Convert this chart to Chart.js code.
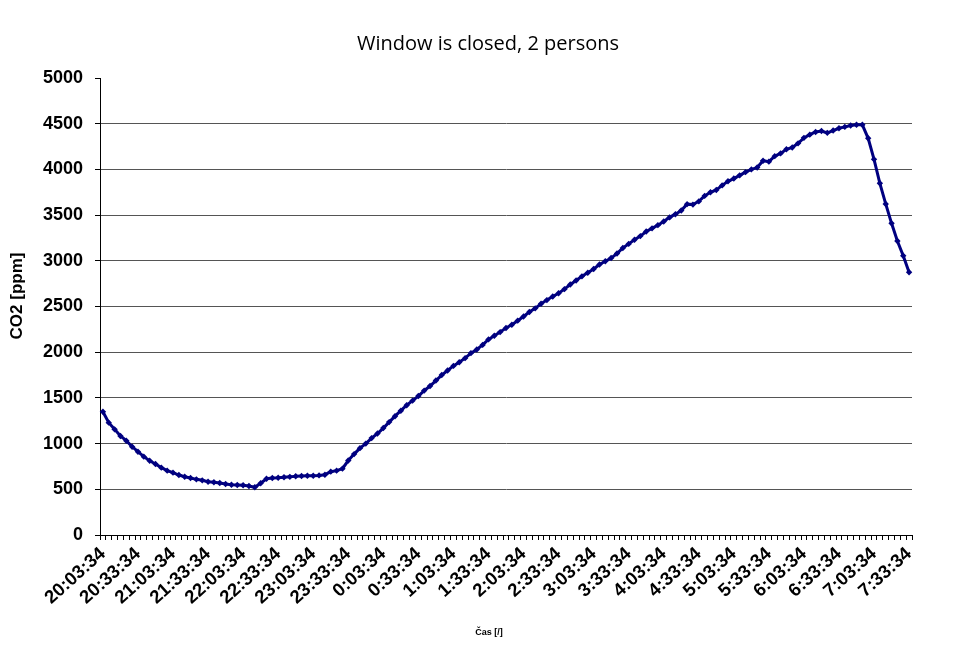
<!DOCTYPE html>
<html><head><meta charset="utf-8">
<script src="https://cdn.jsdelivr.net/npm/chart.js@4"></script>
<style>html,body{margin:0;padding:0;background:#fff}</style>
</head><body>
<canvas id="c" width="954" height="652"></canvas>
<script>
const co2 = [
1349,1229,1156,1083,1032,966,911,857,813,777,
737,704,682,656,638,624,609,598,583,577,
569,558,550,547,544,536,522,566,616,624,
627,632,636,642,645,648,648,652,660,693,
704,726,815,885,950,1000,1060,1110,1170,1235,
1300,1360,1420,1470,1520,1580,1630,1690,1750,1800,
1850,1890,1935,1990,2030,2080,2140,2180,2220,2265,
2300,2345,2390,2440,2480,2530,2570,2610,2645,2690,
2740,2785,2830,2870,2910,2960,2995,3030,3080,3140,
3185,3230,3270,3320,3355,3390,3430,3475,3510,3550,
3620,3615,3650,3710,3750,3775,3825,3870,3900,3935,
3970,4000,4020,4095,4085,4145,4175,4220,4240,4285,
4345,4380,4410,4420,4400,4425,4450,4465,4480,4488,
4488,4340,4110,3848,3622,3410,3217,3056,2874
];
const tickLabels = ['20:03:34','20:33:34','21:03:34','21:33:34','22:03:34','22:33:34','23:03:34','23:33:34',
'0:03:34','0:33:34','1:03:34','1:33:34','2:03:34','2:33:34','3:03:34','3:33:34',
'4:03:34','4:33:34','5:03:34','5:33:34','6:03:34','6:33:34','7:03:34','7:33:34'];
const labelEvery = 6;
const categories = [];
for (let i = 0; i < co2.length; i++) {
  const s = (20*3600 + 3*60 + 34 + i*300) % 86400;
  const h = Math.floor(s/3600), m = Math.floor((s%3600)/60), sec = s%60;
  categories.push(h + ':' + String(m).padStart(2,'0') + ':' + String(sec).padStart(2,'0'));
}
const titleText = 'Window is closed, 2 persons';
const yTitle = 'CO2 [ppm]';
const xTitle = 'Čas [/]';

const textPlugin = {
  id: 'texts',
  afterDraw(chart) {
    const ctx = chart.ctx;
    ctx.save();
    ctx.fillStyle = '#000';
    ctx.textAlign = 'center';
    ctx.textBaseline = 'middle';
    ctx.font = 'normal 20px "Open Sans"';
    ctx.fillText(titleText, 488, 44);
    ctx.font = 'bold 9px "Liberation Sans"';
    ctx.fillText(xTitle, 489, 633);
    ctx.translate(17, 296);
    ctx.rotate(-Math.PI / 2);
    ctx.font = 'bold 17px "Liberation Sans"';
    ctx.fillText(yTitle, 0, 0);
    ctx.restore();
  }
};

new Chart(document.getElementById('c'), {
  type: 'line',
  data: {
    labels: categories,
    datasets: [{
      data: co2,
      borderColor: '#000080',
      backgroundColor: '#000080',
      borderWidth: 3,
      pointStyle: 'rectRot',
      pointRadius: 3.2,
      pointBorderWidth: 0,
      pointBackgroundColor: '#000080',
      tension: 0,
      fill: false
    }]
  },
  plugins: [textPlugin],
  options: {
    responsive: false,
    animation: false,
    devicePixelRatio: 1,
    layout: { padding: { left: 0, right: 42, top: 78, bottom: 0 } },
    plugins: {
      legend: { display: false },
      tooltip: { enabled: false },
      title: { display: false }
    },
    scales: {
      x: {
        type: 'category',
        offset: true,
        border: { display: true, color: '#000', width: 1 },
        grid: { offset: true, drawOnChartArea: false, drawTicks: true, tickLength: 5, tickColor: '#000', tickWidth: 1 },
        ticks: {
          autoSkip: false,
          minRotation: 42,
          maxRotation: 42,
          padding: 3,
          color: '#000',
          font: { family: 'Liberation Sans', size: 18.5, weight: 'bold' },
          callback: function(v, i) { return i % labelEvery === 0 ? tickLabels[i / labelEvery] : ''; }
        },
        afterFit: function(s) { s.height = 117; }
      },
      y: {
        min: 0,
        max: 5000,
        border: { display: true, color: '#000', width: 1 },
        grid: {
          drawTicks: true,
          tickLength: 5,
          tickColor: '#000',
          color: function(ctx) { return (ctx.tick && (ctx.tick.value === 5000 || ctx.tick.value === 0)) ? 'rgba(0,0,0,0)' : '#555'; },
          lineWidth: 1
        },
        ticks: {
          stepSize: 500,
          padding: 12,
          color: '#000',
          font: { family: 'Liberation Sans', size: 18, weight: 'bold' },
          callback: function(v) { return String(v); }
        },
        afterFit: function(s) { s.width = 100; }
      }
    }
  }
});
</script>
</body></html>
